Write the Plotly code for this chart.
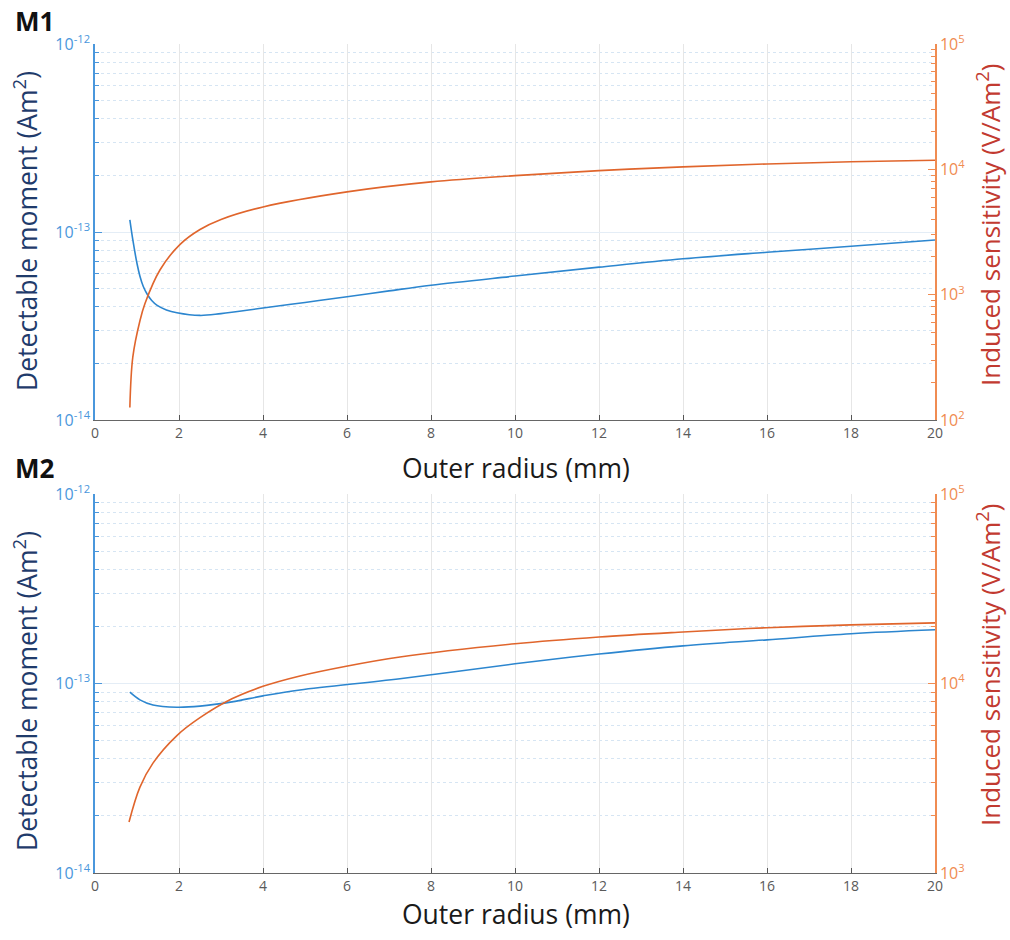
import plotly.graph_objects as go

# ---- data: outer radius (mm) vs detectable moment (Am^2) and induced sensitivity (V/Am^2)
m1_r_moment = [0.83, 0.90, 1.0, 1.07, 1.15, 1.24, 1.35, 1.48, 1.7, 1.95, 2.5, 3, 4, 5, 6, 7, 8,
               10, 12, 14, 16, 18, 20]
m1_moment = [1.16e-13, 9.1e-14, 6.8e-14, 5.82e-14, 5.13e-14, 4.68e-14, 4.32e-14, 4.07e-14,
             3.85e-14, 3.72e-14, 3.6e-14, 3.68e-14, 3.94e-14, 4.22e-14, 4.52e-14, 4.86e-14,
             5.21e-14, 5.83e-14, 6.5e-14, 7.2e-14, 7.8e-14, 8.4e-14, 9.06e-14]
m1_r_sens = [0.83, 0.90, 1.07, 1.19, 1.55, 2.02, 2.5, 3, 4, 6, 8, 10, 12, 14, 16, 18, 20]
m1_sens = [126, 318, 620, 850, 1580, 2510, 3310, 3980, 5010, 6610, 7940, 8910, 9770,
           10470, 11040, 11480, 11830]

m2_r_moment = [0.83, 1.07, 1.38, 1.95, 2.5, 3.26, 4.0, 4.88, 7.26, 10, 12, 14, 16, 18, 20]
m2_moment = [9.0e-14, 8.2e-14, 7.7e-14, 7.5e-14, 7.6e-14, 8.0e-14, 8.6e-14, 9.25e-14, 1.06e-13,
             1.27e-13, 1.43e-13, 1.58e-13, 1.7e-13, 1.83e-13, 1.92e-13]
m2_r_sens = [0.81, 1.07, 1.38, 1.95, 2.5, 3.26, 4.0, 4.88, 5.95, 7.26, 10, 12, 14, 16, 18, 20]
m2_sens = [1860, 2840, 3800, 5310, 6600, 8300, 9660, 10960, 12300, 13800, 16200, 17600,
           18700, 19700, 20400, 20900]

x_ticks = [0, 2, 4, 6, 8, 10, 12, 14, 16, 18, 20]
moment_ticks = [1e-14, 1e-13, 1e-12]
moment_labels = ["10<sup>-14</sup>", "10<sup>-13</sup>", "10<sup>-12</sup>"]
m1_sens_ticks = [1e2, 1e3, 1e4, 1e5]
m1_sens_labels = ["10<sup>2</sup>", "10<sup>3</sup>", "10<sup>4</sup>", "10<sup>5</sup>"]
m2_sens_ticks = [1e3, 1e4, 1e5]
m2_sens_labels = ["10<sup>3</sup>", "10<sup>4</sup>", "10<sup>5</sup>"]

W, H = 1010, 940
BLUE = "#2C86CF"
ORANGE = "#E0652C"
AX_BLUE = "#4A97DC"
AX_ORANGE = "#F08C52"
FONT = "Open Sans"


def minor_vals(lo_exp, hi_exp):
    return [m * 10 ** e for e in range(lo_exp, hi_exp) for m in range(2, 10)]


def px_x(px):
    return px / W


def px_y(py):
    return 1 - py / H


fig = go.Figure()

fig.add_trace(go.Scatter(x=m1_r_moment, y=m1_moment, mode="lines", line=dict(color=BLUE, width=1.6, shape="spline"),
                         xaxis="x", yaxis="y", showlegend=False))
fig.add_trace(go.Scatter(x=m1_r_sens, y=m1_sens, mode="lines", line=dict(color=ORANGE, width=1.6, shape="spline"),
                         xaxis="x", yaxis="y2", showlegend=False))
fig.add_trace(go.Scatter(x=m2_r_moment, y=m2_moment, mode="lines", line=dict(color=BLUE, width=1.6, shape="spline"),
                         xaxis="x2", yaxis="y3", showlegend=False))
fig.add_trace(go.Scatter(x=m2_r_sens, y=m2_sens, mode="lines", line=dict(color=ORANGE, width=1.6, shape="spline"),
                         xaxis="x2", yaxis="y4", showlegend=False))

x_dom = [px_x(95), px_x(935)]
top_dom = [px_y(420), px_y(44)]
bot_dom = [px_y(873), px_y(494)]


def x_axis(anchor):
    return dict(domain=x_dom, anchor=anchor, range=[0, 20], tickvals=x_ticks,
                ticks="inside", ticklen=5, tickcolor="#555555", tickwidth=1,
                showline=True, linecolor="#666666", linewidth=1.2,
                showgrid=True, gridcolor="#E6E6E6", gridwidth=1, zeroline=False,
                tickfont=dict(family=FONT, size=14, color="#5A5A5A"), automargin=False)


def left_axis(anchor, dom):
    return dict(domain=dom, anchor=anchor, type="log", range=[-14, -12],
                tickvals=moment_ticks, ticktext=moment_labels,
                ticks="inside", ticklen=7, tickcolor=AX_BLUE, tickwidth=1,
                showline=True, linecolor=AX_BLUE, linewidth=1.5,
                showgrid=True, gridcolor="#E4EDF6", gridwidth=1, zeroline=False,
                minor=dict(tickvals=minor_vals(-14, -12), ticks="inside", ticklen=4,
                           tickcolor=AX_BLUE, showgrid=True, gridcolor="#D6E5F3",
                           griddash="dot", gridwidth=1),
                tickfont=dict(family=FONT, size=16, color=AX_BLUE), automargin=False)


def right_axis(anchor, overlay, lo, hi, vals, labels):
    return dict(anchor=anchor, overlaying=overlay, side="right", type="log", range=[lo, hi],
                tickvals=vals, ticktext=labels,
                ticks="inside", ticklen=7, tickcolor=AX_ORANGE, tickwidth=1,
                showline=True, linecolor=AX_ORANGE, linewidth=1.5,
                showgrid=False, zeroline=False,
                minor=dict(tickvals=minor_vals(lo, hi), ticks="inside", ticklen=4,
                           tickcolor=AX_ORANGE, showgrid=False),
                tickfont=dict(family=FONT, size=16, color=AX_ORANGE), automargin=False)


annotations = []


def add_text(text, px, py, size, color, angle=0, bold=False, xanchor="center"):
    annotations.append(dict(text=f"<b>{text}</b>" if bold else text, x=px_x(px), y=px_y(py),
                            xref="paper", yref="paper", showarrow=False, textangle=angle,
                            xanchor=xanchor, yanchor="middle",
                            font=dict(family=FONT, size=size, color=color)))


TITLE_SIZE = 26.5
add_text("M1", 13, 21, 26, "#111111", bold=True, xanchor="left")
add_text("M2", 13, 468, 26, "#111111", bold=True, xanchor="left")
add_text("Outer radius (mm)", 516, 468, TITLE_SIZE, "#1A1A1A")
add_text("Outer radius (mm)", 516, 914, TITLE_SIZE, "#1A1A1A")
add_text("Detectable moment (Am<sup>2</sup>)", 25, 231, TITLE_SIZE, "#1F3B6B", angle=-90)
add_text("Detectable moment (Am<sup>2</sup>)", 25, 691, TITLE_SIZE, "#1F3B6B", angle=-90)
add_text("Induced sensitivity (V/Am<sup>2</sup>)", 989, 225, 26, "#C23A30", angle=-90)
add_text("Induced sensitivity (V/Am<sup>2</sup>)", 989, 665, 26, "#C23A30", angle=-90)

fig.update_layout(
    width=W, height=H,
    margin=dict(l=0, r=0, t=0, b=0),
    paper_bgcolor="white", plot_bgcolor="white",
    xaxis=x_axis("y"),
    yaxis=left_axis("x", top_dom),
    yaxis2=right_axis("x", "y", 2, 5, m1_sens_ticks, m1_sens_labels),
    xaxis2=x_axis("y3"),
    yaxis3=left_axis("x2", bot_dom),
    yaxis4=right_axis("x2", "y3", 3, 5, m2_sens_ticks, m2_sens_labels),
    annotations=annotations,
    showlegend=False,
)

fig.write_html("out.html")
